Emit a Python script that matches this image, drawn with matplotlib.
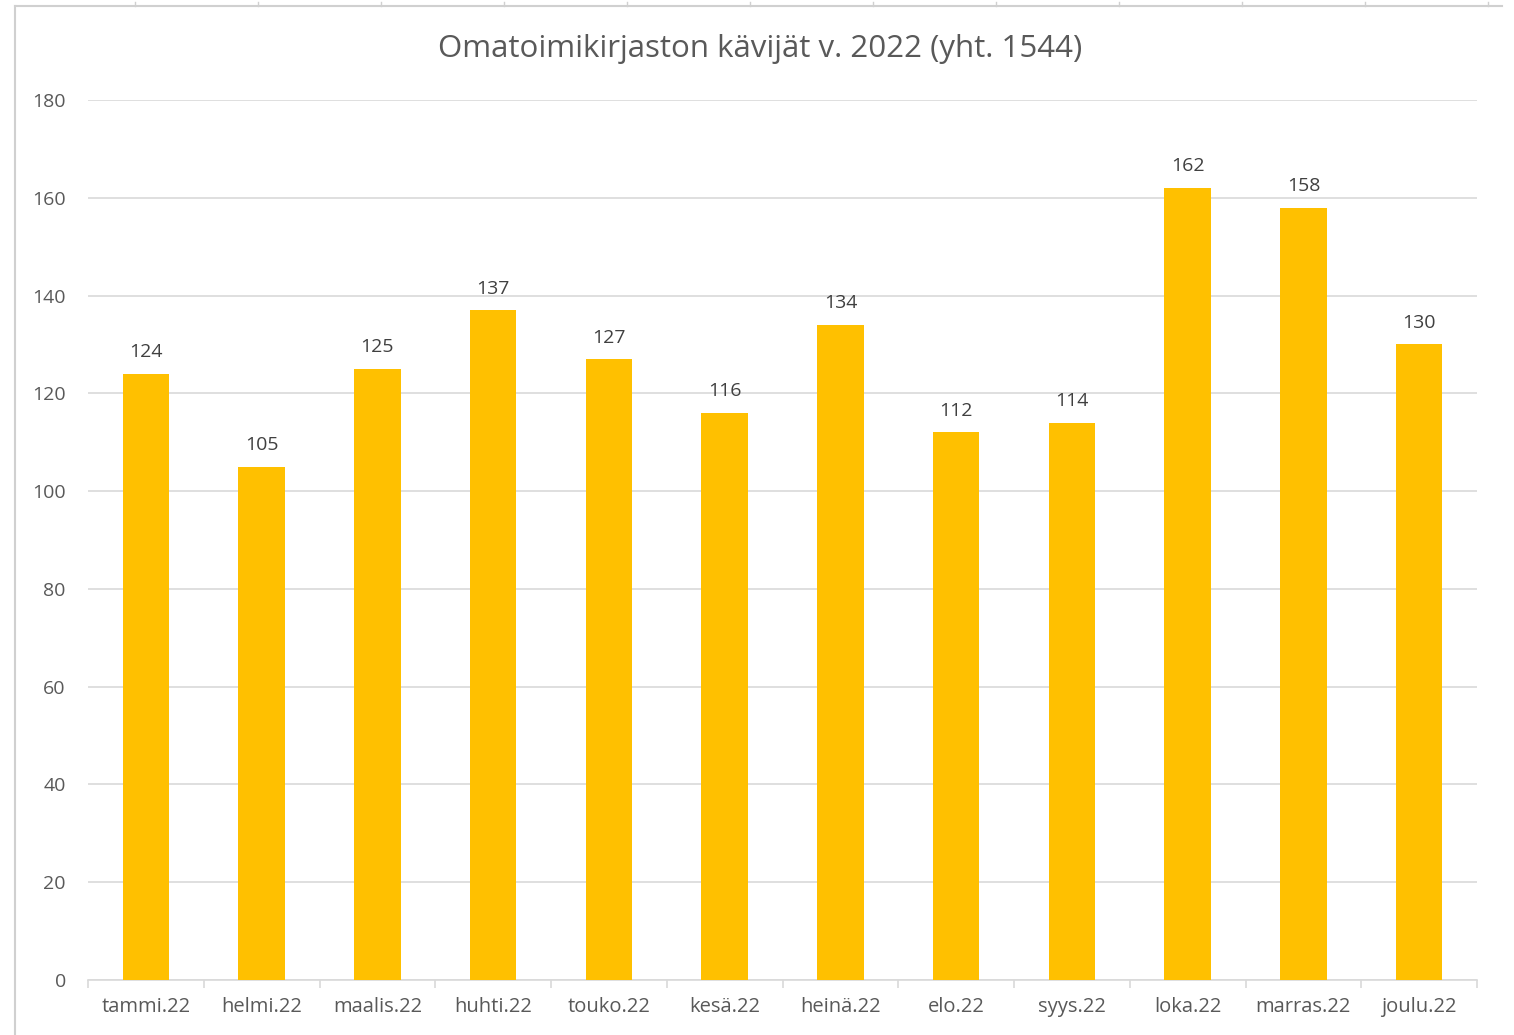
import matplotlib.pyplot as plt
import numpy as np
from matplotlib.lines import Line2D

months = ['tammi.22', 'helmi.22', 'maalis.22', 'huhti.22', 'touko.22', 'kesä.22',
          'heinä.22', 'elo.22', 'syys.22', 'loka.22', 'marras.22', 'joulu.22']
visitors = [124, 105, 125, 137, 127, 116, 134, 112, 114, 162, 158, 130]
title = 'Omatoimikirjaston kävijät v. 2022 (yht. 1544)'

plt.rcParams['font.family'] = ['Open Sans', 'DejaVu Sans']
txt = '#595959'
grid = '#d9d9d9'

fig = plt.figure(figsize=(15.14, 10.35), dpi=100)
ax = fig.add_axes([88 / 1514, 1 - 980 / 1035, (1477 - 88) / 1514, (980 - 100) / 1035])

x = np.arange(len(months))
bars = ax.bar(x, visitors, width=0.4, color='#FFC000', zorder=3)

for xi, v in zip(x, visitors):
    ax.annotate(str(v), (xi, v), xytext=(0, 9), textcoords='offset points',
                ha='center', va='bottom', fontsize=14, color='#404040')

ax.set_xlim(-0.5, len(months) - 0.5)
ax.set_ylim(0, 180)
ax.set_yticks(range(0, 181, 20))
ax.set_xticks(x)
ax.set_xticklabels(months)
ax.set_xticks(np.arange(-0.5, len(months)), minor=True)
ax.tick_params(axis='x', which='major', length=0, pad=12, labelsize=14.5, labelcolor=txt)
ax.tick_params(axis='x', which='minor', length=6, color=grid, width=1.2)
ax.tick_params(axis='y', length=0, pad=16, labelsize=14, labelcolor=txt)

ax.grid(axis='y', color=grid, linewidth=1.2, zorder=0)
for s in ['top', 'right', 'left']:
    ax.spines[s].set_visible(False)
ax.spines['bottom'].set_color(grid)
ax.spines['bottom'].set_linewidth(1.2)

fig.text(760 / 1514, 1 - 49 / 1035, title, ha='center', va='center', fontsize=22.5, color=txt)

# screenshot frame
W, H = 1514, 1035
fig.add_artist(Line2D([15 / W, 1502 / W], [1 - 6 / H, 1 - 6 / H], color='#d0d0d0', lw=1.5))
fig.add_artist(Line2D([15 / W, 15 / W], [1 - 6 / H, 0], color='#d0d0d0', lw=1.5))
for px in range(135, 1500, 123):
    fig.add_artist(Line2D([px / W, px / W], [1 - 6 / H, 1 - 2 / H], color='#d0d0d0', lw=1))

fig.savefig('out.png', dpi=100)
